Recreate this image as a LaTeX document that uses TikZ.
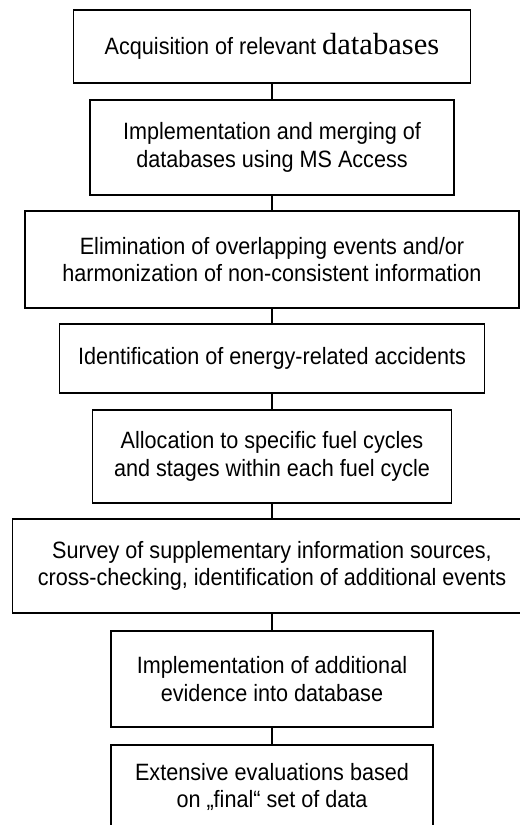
\documentclass[tikz,border=0pt]{standalone}
\usepackage{fontspec}
\setmainfont[FakeStretch=0.915]{Liberation Sans}
\newfontfamily\dbserif{Liberation Serif}
\usetikzlibrary{positioning}
\tikzset{stage/.style={draw,rectangle,line width=0.8pt,align=center,inner sep=0pt,
    font=\fontsize{13.44pt}{15.5pt}\selectfont}  }
\tikzset{link/.style={line width=0.8pt}  }

\begin{document}
\begin{tikzpicture}[x=0.02cm,y=-0.02cm]
\useasboundingbox (0,0) rectangle (520,825);
\clip (0,0) rectangle (520,825);

    \node[stage,minimum width=7.94cm,minimum height=1.46cm] (acq) at (272,46.5)
      {Acquisition of relevant {\dbserif\fontsize{17.4pt}{18pt}\selectfont databases}};
    \node[stage,minimum width=7.28cm,minimum height=1.90cm] (merge) at (272,147.5)
      {Implementation and merging of\\databases using MS Access};
    \node[stage,minimum width=9.88cm,minimum height=1.94cm] (elim) at (272,259.5)
      {Elimination of overlapping events and/or\\harmonization of non-consistent information};
    \node[stage,minimum width=8.50cm,minimum height=1.38cm] (ident) at (272,358.5)
      {Identification of energy-related accidents};
    \node[stage,minimum width=7.18cm,minimum height=1.86cm] (alloc) at (272,456.5)
      {Allocation to specific fuel cycles\\and stages within each fuel cycle};
    \node[stage,minimum width=10.38cm,minimum height=1.88cm] (survey) at (272,566)
      {Survey of supplementary information sources,\\cross-checking, identification of additional events};
    \node[stage,minimum width=6.44cm,minimum height=1.92cm] (impl) at (272,679)
      {Implementation of additional\\evidence into database};
    \node[stage,minimum width=6.44cm,minimum height=1.68cm] (eval) at (272,787)
      {Extensive evaluations based\\on „final“ set of data};

    \draw[link]
      (acq) edge (merge)
      (merge) edge (elim)
      (elim) edge (ident)
      (ident) edge (alloc)
      (alloc) edge (survey)
      (survey) edge (impl)
      (impl) edge (eval);

\end{tikzpicture}
\end{document}
